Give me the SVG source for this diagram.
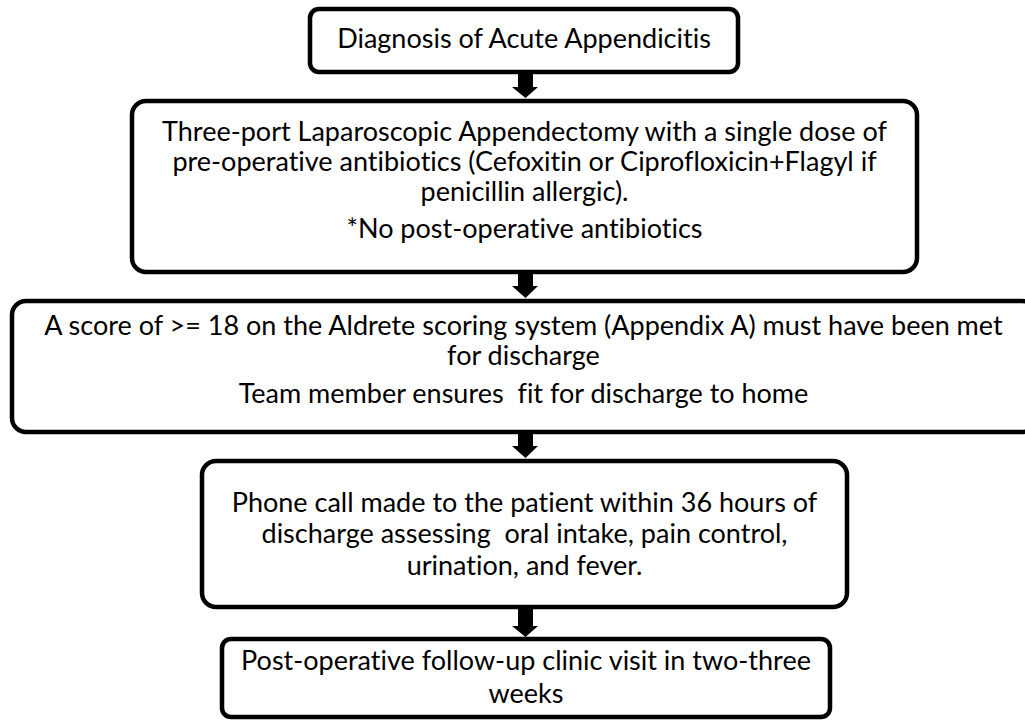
<svg xmlns="http://www.w3.org/2000/svg" width="1025" height="720" viewBox="0 0 1025 720">
<style>
.box{fill:#fff;stroke:#000;stroke-width:4.5}
.t{font-family:Lato,"Liberation Sans",Arial,sans-serif;font-size:27px;fill:#000;text-anchor:middle;white-space:pre;font-variant-ligatures:none;font-feature-settings:"liga" 0,"clig" 0,"dlig" 0}
.arr{fill:#000}
</style>
<rect width="1025" height="720" fill="#fff"/>
<g id="connectors">
<path class="arr" d="M518,74 H533 V87 H538 L525.5,98 L512,87 H518 Z"/>
<path class="arr" d="M518,274 H533 V286 H538 L525.5,298 L512,286 H518 Z"/>
<path class="arr" d="M518,434 H533 V446 H538 L525.5,458 L512,446 H518 Z"/>
<path class="arr" d="M518,609 H533 V626 H538 L525.5,637 L512,626 H518 Z"/>
</g>
<g id="n1">
<rect class="box" x="310" y="9" width="428" height="63" rx="9"/>
<text class="t" x="524" y="48">Diagnosis of Acute Appendicitis</text>
</g>
<g id="n2">
<rect class="box" x="132" y="101" width="785" height="171" rx="14"/>
<text class="t" x="524.5" y="140.5">Three-port Laparoscopic Appendectomy with a single dose of</text>
<text class="t" x="524.5" y="170.5">pre-operative antibiotics (Cefoxitin or Ciprofloxicin+Flagyl if</text>
<text class="t" x="524.5" y="200.5">penicillin allergic).</text>
<text class="t" x="524.5" y="238">*No post-operative antibiotics</text>
</g>
<g id="n3">
<rect class="box" x="12" y="301" width="1024" height="131" rx="14"/>
<text class="t" x="523.5" y="335">A score of &gt;= 18 on the Aldrete scoring system (Appendix A) must have been met</text>
<text class="t" x="523.5" y="365">for discharge</text>
<text class="t" x="523.5" y="403">Team member ensures  fit for discharge to home</text>
</g>
<g id="n4">
<rect class="box" x="202" y="461" width="645" height="146" rx="14"/>
<text class="t" x="524.5" y="512">Phone call made to the patient within 36 hours of</text>
<text class="t" x="524.5" y="543">discharge assessing  oral intake, pain control,</text>
<text class="t" x="524.5" y="575">urination, and fever.</text>
</g>
<g id="n5">
<rect class="box" x="222" y="639" width="608" height="78" rx="9"/>
<text class="t" x="526" y="670">Post-operative follow-up clinic visit in two-three</text>
<text class="t" x="526" y="703">weeks</text>
</g>
</svg>
